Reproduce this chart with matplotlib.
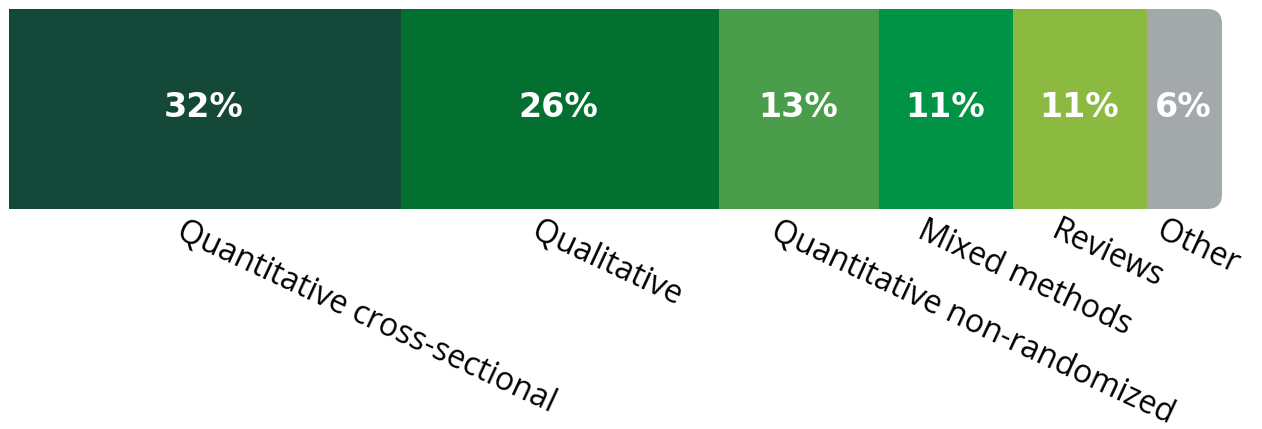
import matplotlib.pyplot as plt
from matplotlib.patches import FancyBboxPatch

CATEGORIES = ["Quantitative cross-sectional", "Qualitative", "Quantitative non-randomized",
              "Mixed methods", "Reviews", "Other"]
SHARES = [32.3, 26.2, 13.2, 11.05, 11.05, 6.2]
SHARE_LABELS = ["32%", "26%", "13%", "11%", "11%", "6%"]
COLORS = ["#144838", "#037032", "#4A9D4A", "#009345", "#8CBA41", "#A3A8AA"]

W, H = 1262, 429
fig = plt.figure(figsize=(W / 100, H / 100), dpi=100)
bar_left, bar_right, bar_top, bar_bottom = 9, 1222, 9, 209
ax = fig.add_axes([bar_left / W, (H - bar_bottom) / H,
                   (bar_right - bar_left) / W, (bar_bottom - bar_top) / H])
total = sum(SHARES)
ax.set_xlim(0, total)
ax.set_ylim(-0.5, 0.5)
ax.axis("off")

# rounded right end only: clip to a rounded box whose left corners sit outside the axes
radius_px = 15
bw, bh = bar_right - bar_left, bar_bottom - bar_top
clip = FancyBboxPatch((-0.1, 0), 1.1, 1, boxstyle=f"round,pad=0,rounding_size={radius_px / bw}",
                      mutation_aspect=bw / bh, transform=ax.transAxes, facecolor="none", edgecolor="none")

left = 0
for share, label, color, cat in zip(SHARES, SHARE_LABELS, COLORS, CATEGORIES):
    bars = ax.barh(0, share, left=left, height=1, color=color, linewidth=0)
    for b in bars:
        b.set_clip_path(clip)
    mid = left + share / 2
    ax.annotate(label, xy=(mid, 0.01), xytext=(-1, 0), textcoords="offset pixels",
                ha="center", va="center", color="white",
                fontsize=24, fontweight="bold", family="DejaVu Sans")
    ax.annotate(cat, xy=(mid, -0.5), xytext=(-19, -5), textcoords="offset pixels",
                rotation=-25, rotation_mode="anchor", ha="left", va="top",
                fontsize=23, family="Open Sans", color="black", annotation_clip=False)
    left += share

fig.savefig("out.png", dpi=100)
